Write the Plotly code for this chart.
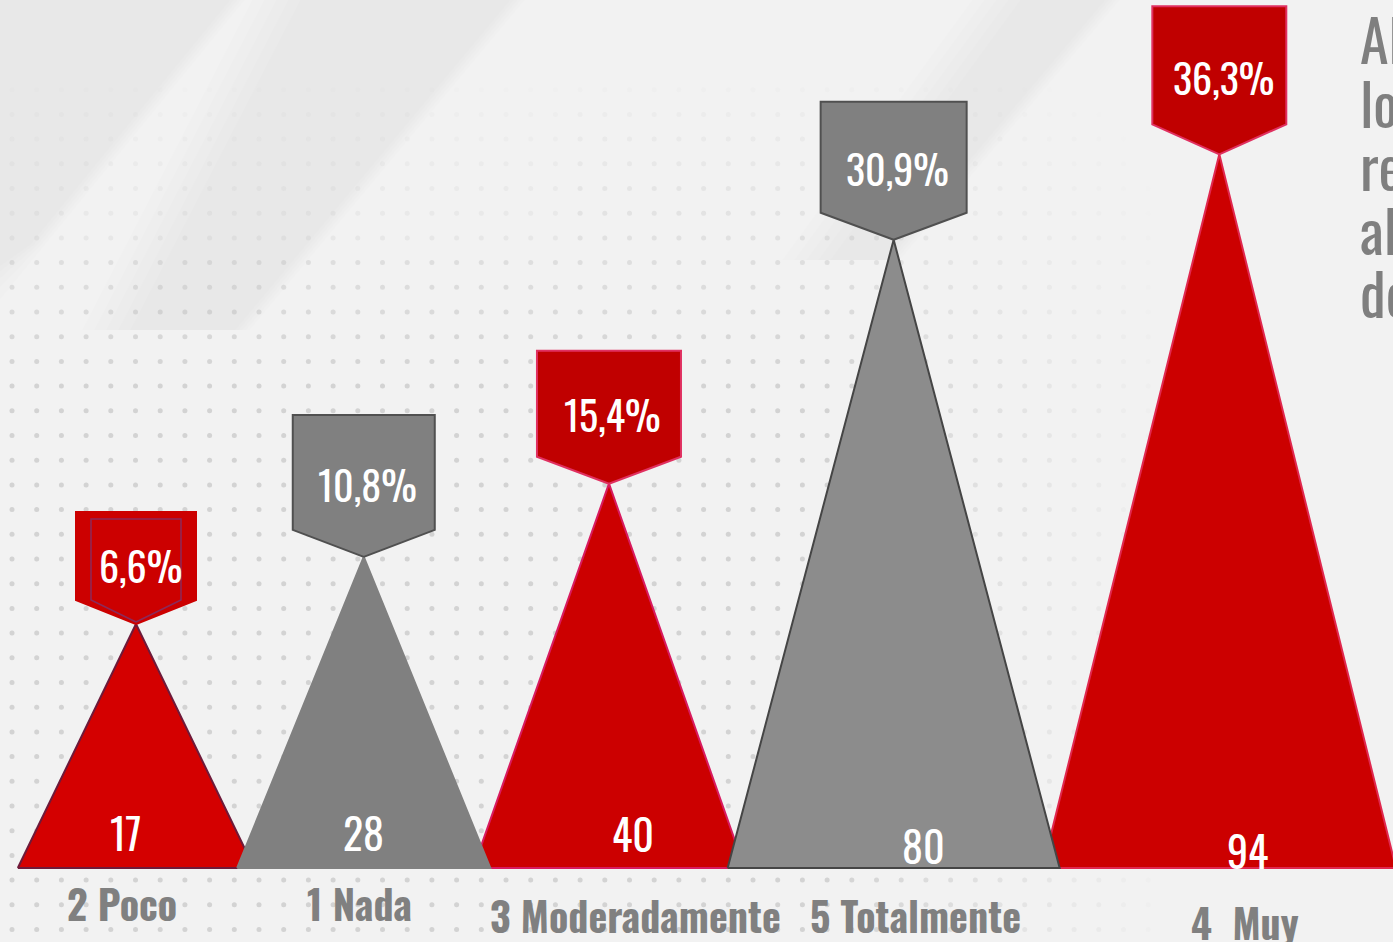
import numpy as np
import plotly.graph_objects as go

# ---------------- data ----------------
categories = ["2 Poco", "1 Nada", "3 Moderadamente", "5 Totalmente", "4  Muy"]
counts = [17, 28, 40, 80, 94]
pct_labels = ["6,6%", "10,8%", "15,4%", "30,9%", "36,3%"]
side_text = ["Al", "lo", "re", "al", "de"]

# ---------------- styles ----------------
W, H = 1393, 942
FONT = "Oswald, 'Liberation Sans Narrow', 'Arial Narrow', 'DejaVu Sans Condensed', 'Roboto Condensed', sans-serif"
tri_fill = ["#D40000", "#808080", "#CC0000", "#8C8C8C", "#CC0000"]
tri_line = ["#6E1A3A", "#808080", "#D81B60", "#454545", "#E0284F"]
tag_fill = ["#CC0000", "#808080", "#C00000", "#808080", "#C00000"]
tag_line = ["#CC0000", "#505050", "#E03060", "#505050", "#E03060"]
tag_w = [120, 142, 144, 146, 134]      # px
tag_rect = [88, 115, 106, 111, 118]    # px
tag_point = [24, 27, 27, 27, 30]       # px
val_dx = [-10, 0, 24, 30, 28]          # px
val_up = [36, 36, 35, 23, 18]          # px above base
cat_dx = [-14, -4, 27, 22, 26]
cat_py = [903, 903, 915, 915, 922]

# scales: x in pixels, y in value units (linear)
K = 6.1            # px per unit
BASE = -23.0       # value at triangle base
BASE_PY = 868      # px from top of baseline
y0 = BASE - (H - BASE_PY) / K
y1 = y0 + H / K


def yu(py):
    return y0 + (H - py) / K


def du(px):
    return px / K

# half widths & centres from counts
halves = [105.3 + 0.759 * c for c in counts]
centres = [136.0]
for i in range(1, len(counts)):
    centres.append(centres[-1] + halves[i - 1] + halves[i] - 17)

fig = go.Figure()

# ---- soft background streaks (stacked faint layers) ----
streaks = [
    ([(0, 0), (245, 0), (45, 245), (0, 300)], 0.008),
    ([(300, 0), (525, 0), (250, 330), (130, 330)], 0.009),
    ([(1020, 0), (1120, 0), (900, 260), (830, 260)], 0.006),
]
for poly, a in streaks:
    for s in range(5):
        sh = s * 12
        pts = [(p[0] - sh if k in (0, 3) else p[0] - sh * 0.3, p[1]) for k, p in enumerate(poly)]
        xs = [p[0] for p in pts] + [pts[0][0]]
        ys = [yu(p[1]) for p in pts] + [yu(pts[0][1])]
        fig.add_trace(go.Scatter(x=xs, y=ys, mode="lines", fill="toself",
                                 fillcolor=f"rgba(0,0,0,{a})", line=dict(width=0),
                                 hoverinfo="skip", showlegend=False))

# ---- dot pattern ----
gx = np.arange(12, W, 24.7)
gy = np.arange(65, H, 24.7)
dx, dy, dc = [], [], []
for yy in gy:
    for xx in gx:
        a = 0.30 * np.clip((yy - 60) / 320, 0, 1) * np.clip((1180 - xx) / 350, 0, 1)
        if xx < 560 and yy < 260:
            a *= 0.6
        if a > 0.01:
            dx.append(xx)
            dy.append(yu(yy))
            dc.append(f"rgba(140,140,140,{a:.3f})")
fig.add_trace(go.Scatter(x=dx, y=dy, mode="markers",
                         marker=dict(size=5, color=dc, line=dict(width=0)),
                         hoverinfo="skip", showlegend=False))

# ---- triangles (red first, grey on top) ----
order = [0, 2, 4, 1, 3]
for i in order:
    c, h, v = centres[i], halves[i], counts[i]
    fig.add_trace(go.Scatter(
        x=[c - h, c, c + h, c - h], y=[BASE, v, BASE, BASE],
        mode="lines", fill="toself", fillcolor=tri_fill[i],
        line=dict(color=tri_line[i], width=2), hoverinfo="skip", showlegend=False))

# ---- tags ----
for i in range(len(counts)):
    c, v = centres[i], counts[i]
    w = tag_w[i] / 2
    ys_ = [v, v + du(tag_point[i]), v + du(tag_point[i] + tag_rect[i]),
           v + du(tag_point[i] + tag_rect[i]), v + du(tag_point[i]), v]
    xs_ = [c, c + w, c + w, c - w, c - w, c]
    fig.add_trace(go.Scatter(x=xs_, y=ys_, mode="lines", fill="toself",
                             fillcolor=tag_fill[i], line=dict(color=tag_line[i], width=2),
                             hoverinfo="skip", showlegend=False))
    if i == 0:
        wi = w - 15
        ys2 = [v + du(2), v + du(tag_point[i]), v + du(tag_point[i] + tag_rect[i] - 7),
               v + du(tag_point[i] + tag_rect[i] - 7), v + du(tag_point[i]), v + du(2)]
        fig.add_trace(go.Scatter(x=[c, c + wi, c + wi, c - wi, c - wi, c], y=ys2,
                                 mode="lines", line=dict(color="#8B2A5A", width=1.5),
                                 hoverinfo="skip", showlegend=False))
    # percent label
    fig.add_annotation(x=c + 4, y=v + du(tag_point[i] + tag_rect[i] * 0.4),
                       text=pct_labels[i], showarrow=False,
                       font=dict(family=FONT, size=40, color="white"))
    # value label
    fig.add_annotation(x=c + val_dx[i], y=BASE + du(val_up[i]), text=str(v),
                       showarrow=False, font=dict(family=FONT, size=42, color="white"))
    # category label
    fig.add_annotation(x=c + cat_dx[i], y=yu(cat_py[i]), text=f"<b>{categories[i]}</b>",
                       showarrow=False, font=dict(family=FONT, size=40, color="#808080"))

# side text (cut off at right edge, as in the source)
for j, t in enumerate(side_text):
    fig.add_annotation(x=1358, y=yu(38 + 63.5 * j), text=t, showarrow=False,
                       xanchor="left", font=dict(family=FONT, size=58, color="#7F7F7F"))

fig.update_layout(
    width=W, height=H, autosize=False,
    margin=dict(l=0, r=0, t=0, b=0),
    paper_bgcolor="#F2F2F2", plot_bgcolor="#F2F2F2",
    xaxis=dict(range=[0, W], visible=False, fixedrange=True),
    yaxis=dict(range=[y0, y1], visible=False, fixedrange=True),
    showlegend=False,
)

fig.write_html("out.html", config={"displayModeBar": False},
               post_script="document.body.style.margin='0';document.body.style.overflow='hidden';")
